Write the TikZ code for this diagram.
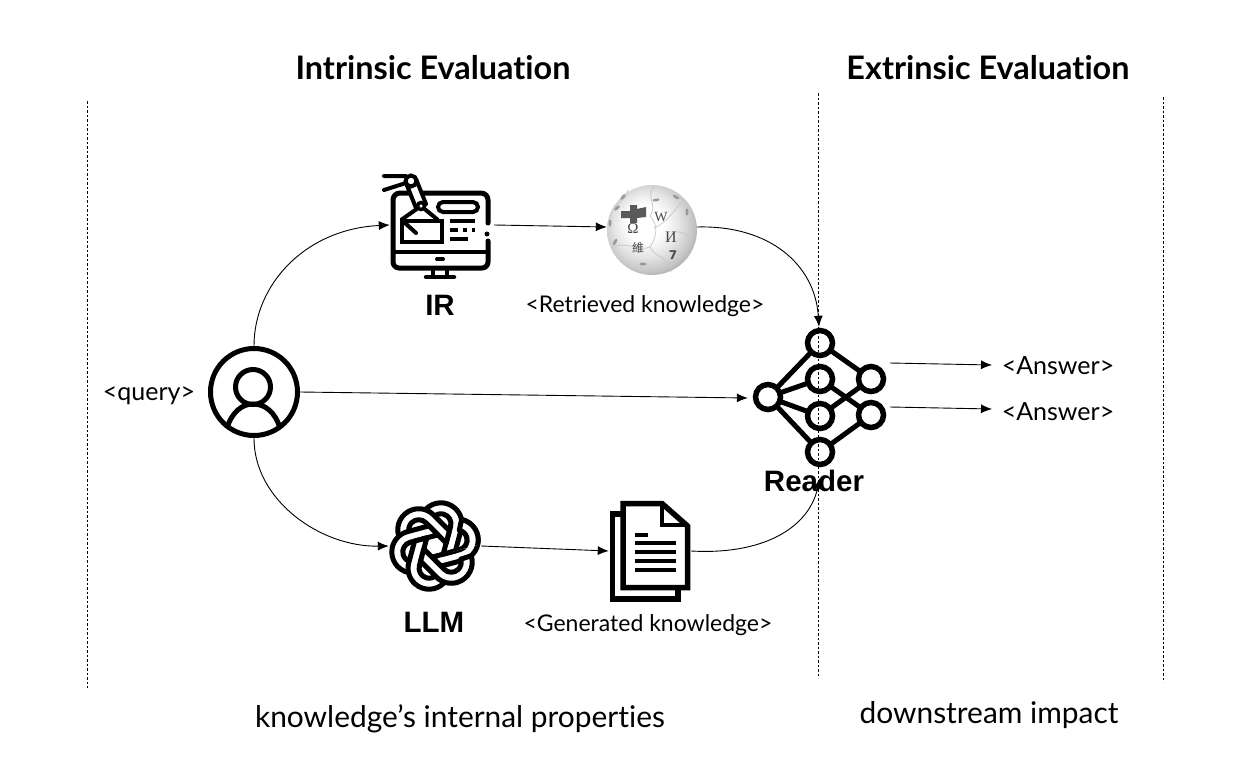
\documentclass[tikz,border=0pt]{standalone}
\usepackage{fontspec}
\usetikzlibrary{arrows.meta}
\setmainfont{Lato}[Ligatures=NoCommon]
\newfontfamily\iconfont{DejaVu Sans}
\newfontfamily\boldfont{Liberation Sans}
\newfontfamily\serifglyph{Liberation Serif}
\newfontfamily\cjkglyph{Noto Sans CJK SC}
\newcommand{\fsize}[1]{\fontsize{#1}{#1}\selectfont}
\pgfdeclareradialshading{wikiball}{\pgfpoint{-5bp}{5bp}}{color(0bp)=(white); color(10bp)=(white); color(18bp)=(black!10); color(25bp)=(black!22); color(33bp)=(black!42); color(50bp)=(black!50)}
\tikzset{
  link/.style={draw, line width=0.9pt, -{Latex[length=11pt,width=9pt]}},
  sep/.style={draw, line width=0.6pt, dash pattern=on 2.5pt off 2pt},
  head/.style={inner sep=0pt, font=\fsize{32.4}\bfseries},
  foot/.style={inner sep=0pt, font=\fsize{29.9}},
  tag/.style={inner sep=0pt, font=\fsize{23}},
  bigtag/.style={inner sep=0pt, font=\fsize{25}},
  tool/.style={inner sep=0pt, font=\boldfont\fsize{29.5}\bfseries},
  slot/.style={inner sep=0pt, minimum width=#1, minimum height=#1},
  icon/.style={line width=5pt, line join=round, line cap=round},
  neuron/.style={draw, circle, fill=white, line width=5.5pt, minimum size=25pt, inner sep=0pt},
  synapse/.style={line width=5pt},
  glyph/.style={inner sep=0pt, text=black!72},
  ribbon/.style={draw, fill=white, line width=5pt, line join=round}
}
% one band of the knot, in its own frame
\newcommand{\knotband}{(23,0) ++(-63:21) arc[start angle=-63, end angle=90, radius=21] -- (0.6,21) -- (-5.8,10) -- (23,10) arc[start angle=90, end angle=-63, radius=10] -- cycle}

\begin{document}
\begin{tikzpicture}[x=1pt, y=-1pt]
  \useasboundingbox (0,0) rectangle (1256,776);

  % slots for the icons, the connectors end on them
  \node[slot=92pt] (user) at (254,392) {};
  \node[slot=100pt] (ir) at (440,226) {};
  \node[slot=90pt] (wiki) at (652,227) {};
  \node[slot=92pt] (llm) at (435,546) {};
  \node[slot=82pt] (doc) at (650,551) {};
  \node[slot=142pt] (reader) at (819,398) {};

  % user
  \draw[line width=5pt] (254,392) circle (43.5);
  \draw[line width=5pt] (253,387) circle (17.5);
  \draw[line width=5pt] (227,428) .. controls (232,412) and (242,404) .. (253,404) .. controls (265,404) and (275,412) .. (280,428);

  % IR monitor
  \draw[icon] (488,223) -- (488,200) arc[start angle=0, end angle=-90, radius=7] -- (400,193) arc[start angle=-90, end angle=-180, radius=7] -- (393,262) arc[start angle=180, end angle=90, radius=6] -- (482,268) arc[start angle=90, end angle=0, radius=6] -- (488,241);
  \fill (487,234) circle (2.5);
  \draw[line width=4pt] (393,252) -- (488,252);
  \draw[line width=4pt, line cap=round] (437,259) -- (443,259);
  \draw[line width=4pt] (433,268) -- (433,277) (447,268) -- (447,277);
  \draw[line width=4.5pt, line cap=round] (426,277) -- (454,277);
  \draw[line width=4.5pt, fill=white] (402,221) rectangle (442,242);
  \draw[line width=4pt, rounded corners=5pt, fill=white] (438,202) rectangle (478,212);
  \draw[line width=3.5pt] (450,221) -- (475,221) (450,230) -- (458,230) (463,230) -- (467,230) (472,230) -- (475,230) (450,239) -- (468,239);
  \draw[line width=4pt, line cap=round] (384,176) -- (406,176) (384,190) -- (406,183);
  \draw[line width=4pt, fill=white, line join=round] (406,183) -- (416,208) -- (426,204) -- (416,179) -- cycle;
  \draw[line width=4pt, line join=round] (401,220) -- (421,206) -- (438,220);
  \draw[line width=4pt, line cap=round] (405,223) -- (416,233);
  \draw[line width=4pt, fill=white] (411,181) circle (5.5);
  \draw[line width=3.5pt, fill=white] (421,206) circle (3.5);

  % wiki ball
  \shade[shading=wikiball] (652,230) circle (45);
  \fill[black!65] (621,211) -- (630,211) -- (630,205) -- (637,205) -- (637,209) -- (646,207) -- (646,217) -- (637,218) -- (637,223) -- (630,223) -- (630,218) -- (621,218) -- cycle;
  \draw[black!22, line width=0.7pt] (628,190) .. controls (625,203) and (612,203) .. (610,218) (654,186) .. controls (645,196) and (658,205) .. (650,216) .. controls (660,226) and (655,240) .. (650,247) .. controls (640,252) and (625,240) .. (612,248) (650,247) .. controls (655,258) and (668,255) .. (672,272) (684,200) .. controls (672,212) and (668,222) .. (654,228) (672,233) .. controls (682,228) and (690,240) .. (695,238);
  \node[glyph, font=\serifglyph\fsize{15}] (gomega) at (633,229) {Ω};
  \node[glyph, font=\serifglyph\fsize{14}] (gw) at (661,217) {W};
  \node[glyph, font=\serifglyph\fsize{16}] (gi) at (671,237) {И};
  \node[glyph, font=\iconfont\bfseries\fsize{12}] (gseven) at (673,255) {7};
  \node[glyph, font=\cjkglyph\fsize{12}] (gwei) at (638,248) {維};
  \foreach \px/\py/\ang in {617/208/40, 623/197/50, 656/200/10, 676/197/-30, 687/212/90, 610/223/90, 615/242/60, 643/264/0}{
    \fill[black!40, rotate around={\ang:(\px,\py)}] (\px,\py) ellipse (3.5 and 1.5);
  }

  % LLM knot
  \foreach \a in {15,75,...,315}{
    \begin{scope}[shift={(435,546)}, rotate=\a]
      \path[ribbon] \knotband;
    \end{scope}
  }
  \begin{scope}[shift={(435,546)}, rotate=15]
    \clip (14,-34) rectangle (50,10);
    \path[ribbon] \knotband;
  \end{scope}

  % doc
  \draw[line width=5.5pt] (623,514) -- (612.5,514) -- (612.5,599) -- (678,599) -- (678,588);
  \draw[line width=5.5pt, fill=white, line join=miter] (623,503.5) -- (662,503.5) -- (687.5,526) -- (687.5,587.5) -- (623,587.5) -- cycle;
  \draw[line width=4pt, line join=miter] (662,504) -- (662,525) -- (687,525);
  \draw[line width=3.5pt] (635,535) -- (648,535) (635,543) -- (676,543) (635,552) -- (676,552) (635,561) -- (676,561) (635,570) -- (676,570);

  % reader net
  \foreach \to in {343,379,416,452}{
    \draw[synapse] (768,397) -- (820,\to);
  }
  \draw[synapse] (820,343) -- (871,379) (820,379) -- (871,415) (820,416) -- (871,379) (820,452) -- (871,415);
  \node[neuron] (nin) at (768,397) {};
  \node[neuron] (na) at (820,343) {};
  \node[neuron] (nb) at (820,379) {};
  \node[neuron] (nc) at (820,416) {};
  \node[neuron] (nd) at (820,452) {};
  \node[neuron] (ne) at (871,379) {};
  \node[neuron] (nf) at (871,415) {};

  % separators
  \draw[sep] (87,101) -- (87,688);
  \draw[sep] (818,93) -- (818,678);
  \draw[sep] (1163,97) -- (1163,682);

  % texts
  \node[head] (intr) at (433,68) {Intrinsic Evaluation};
  \node[head] (extr) at (988,68) {Extrinsic Evaluation};
  \node[foot] (props) at (460,719) {knowledge’s internal properties};
  \node[foot] (impact) at (989,715) {downstream impact};
  \node[bigtag] (query) at (149,396) {<query>};
  \node[tag] (retr) at (645,306) {<Retrieved knowledge>};
  \node[tag] (gen) at (648,625) {<Generated knowledge>};
  \node[bigtag] (ans1) at (1058,366) {<Answer>};
  \node[bigtag] (ans2) at (1058,412) {<Answer>};
  \node[tool] (irlab) at (440,305) {IR};
  \node[tool] (llmlab) at (434,622) {LLM};
  \node[tool] (readlab) at (814,481) {Reader};

  % connectors
  \coordinate (rdend) at (820,478);
  \coordinate (out1) at (890,363);
  \coordinate (out2) at (890,407);
  \coordinate (in1) at (992,365);
  \coordinate (in2) at (992,409);
  \draw[link] (user.north) .. controls (254,285) and (305,229) .. (ir.west |- 0,225);
  \draw[link] (user.east) -- (reader.west);
  \draw[link] (user.south) .. controls (254,500) and (320,547) .. (llm.west);
  \draw[link] (ir.east |- 0,225) ++(4,0) -- (wiki.west);
  \draw[link] (wiki.east) .. controls (770,225) and (815,265) .. (reader.north);
  \draw[link] (llm.east) -- (doc.west);
  \draw[link] (doc.east) .. controls (760,555) and (808,530) .. (rdend);
  \draw[link] (out1) -- (in1);
  \draw[link] (out2) -- (in2);
\end{tikzpicture}
\end{document}
